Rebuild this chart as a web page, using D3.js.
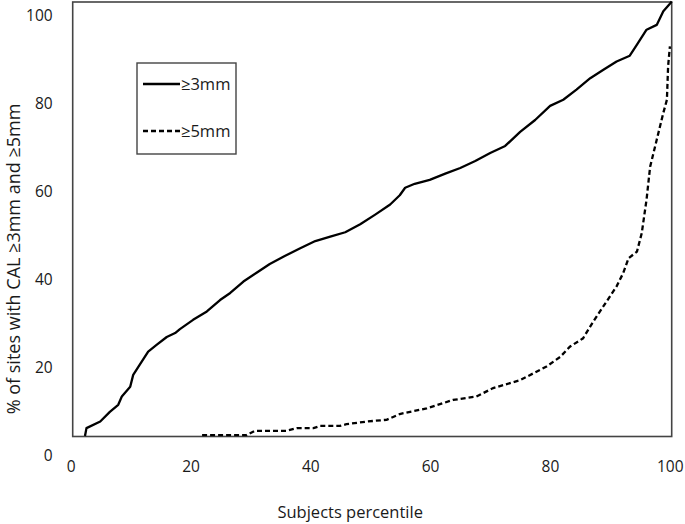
<!DOCTYPE html>
<html>
<head>
<meta charset="utf-8">
<script src="https://cdn.jsdelivr.net/npm/d3@7"></script>
<style>
  html, body { margin: 0; padding: 0; background: #fff; }
  svg text { font-family: "Open Sans", Lato, sans-serif; fill: #1a1a1a; }
</style>
</head>
<body>
<svg id="chart" width="685" height="524"></svg>
<script>
// ---- data ----
const xTicks = [0, 20, 40, 60, 80, 100];
const yTicks = [0, 20, 40, 60, 80, 100];
const seriesNames = ["\u22653mm", "\u22655mm"];

const pct3 = [2.05, 2.3, 4.6, 6.2, 7.6, 8.2, 9.6, 10.1, 11.2, 12.6, 14.0, 15.7, 17.1, 17.9, 20.1, 22.4, 24.6, 26.3, 28.5, 30.7,
  32.9, 35.4, 37.9, 40.5, 43.0, 45.5, 48.0, 50.5, 53.0, 54.6, 55.5, 57.1, 59.6, 62.2, 64.7, 67.2, 69.7, 72.2, 74.7, 77.2, 79.7,
  81.9, 84.1, 86.4, 88.6, 90.8, 93.0, 94.2, 95.8, 97.5, 98.6, 99.7, 100];
const val3 = [4.3, 6.1, 7.6, 9.8, 11.4, 13.3, 15.5, 18.2, 20.5, 23.5, 25.0, 26.8, 27.7, 28.6, 30.7, 32.6, 35.2, 36.8, 39.4, 41.4,
  43.4, 45.2, 46.9, 48.6, 49.6, 50.6, 52.4, 54.6, 56.9, 59.0, 60.7, 61.6, 62.5, 63.9, 65.2, 66.8, 68.6, 70.2, 73.4, 76.1, 79.3,
  80.7, 83.0, 85.6, 87.5, 89.4, 90.7, 93.2, 96.6, 97.7, 100.8, 102.5, 103];

const pct5 = [21.6, 29.0, 30.4, 35.7, 37.4, 40.2, 41.3, 44.6, 45.7, 49.1, 52.4, 54.6, 59.1, 63.5, 67.4, 70.2, 74.7, 79.1, 81.4,
  83.0, 85.2, 86.9, 89.1, 90.8, 91.9, 92.8, 94.2, 95.0, 95.8, 96.4, 97.5, 98.6, 99.2, 99.4, 99.7];
const val5 = [4.5, 4.5, 5.5, 5.5, 6.1, 6.1, 6.6, 6.6, 7.0, 7.6, 8.0, 9.3, 10.6, 12.5, 13.3, 15.2, 17.0, 20.1, 22.3,
  24.6, 26.5, 30.3, 34.8, 38.3, 41.3, 44.7, 46.2, 50.4, 58.0, 65.5, 71.6, 77.7, 80.7, 88.3, 92.8];

// ---- layout ----
const svg = d3.select("#chart");
const box = { left: 72.7, right: 671.7, top: 2, bottom: 436.5 };
const FONT = "'Open Sans', Lato, sans-serif";

const x = d3.scaleLinear().domain([0, 100]).range([box.left, box.right]);
const y = d3.scaleLinear().domain([4.2, 102.9]).range([box.bottom, box.top]);

// plot frame
svg.append("rect")
  .attr("x", box.left).attr("y", box.top)
  .attr("width", box.right - box.left).attr("height", box.bottom - box.top)
  .attr("fill", "none").attr("stroke", "#444").attr("stroke-width", 1.6);

// axes (labels only)
const yAxis = svg.append("g")
  .attr("transform", `translate(${box.left - 20},0)`)
  .call(d3.axisLeft(y).tickValues(yTicks).tickSize(0).tickPadding(0));
yAxis.select(".domain").remove();
yAxis.selectAll("text").style("font-size", "15.5px").attr("dy", "0.35em").style("font-family", FONT).attr("fill", "#1a1a1a");

const xAxis = svg.append("g")
  .attr("transform", `translate(-2,${461})`)
  .call(d3.axisBottom(x).tickValues(xTicks).tickSize(0).tickPadding(0));
xAxis.select(".domain").remove();
xAxis.selectAll("text").style("font-size", "15.5px").style("font-family", FONT).attr("fill", "#1a1a1a");

// axis titles
svg.append("text")
  .attr("x", (box.left + box.right) / 2 - 22).attr("y", 518)
  .attr("text-anchor", "middle").style("font-size", "16.5px")
  .text("Subjects percentile");

svg.append("text")
  .attr("transform", `translate(20,${259}) rotate(-90)`)
  .attr("text-anchor", "middle").style("font-size", "18px")
  .text("% of sites with CAL \u22653mm and \u22655mm");

// lines
const line = d3.line().x(d => x(d[0])).y(d => y(d[1]));
const s3 = pct3.map((p, i) => [p, val3[i]]);
const s5 = pct5.map((p, i) => [p, val5[i]]);

svg.append("path").datum(s3).attr("d", line)
  .attr("fill", "none").attr("stroke", "#000").attr("stroke-width", 2.3).attr("stroke-linejoin", "round");
svg.append("path").datum(s5).attr("d", line)
  .attr("fill", "none").attr("stroke", "#000").attr("stroke-width", 2.3).attr("stroke-dasharray", "5,3");

// legend
const lg = svg.append("g");
lg.append("rect").attr("x", 137).attr("y", 63).attr("width", 99).attr("height", 91)
  .attr("fill", "#fff").attr("stroke", "#444").attr("stroke-width", 1.4);
const items = [{ name: seriesNames[0], dash: null, yy: 84 }, { name: seriesNames[1], dash: "5,3", yy: 131 }];
items.forEach(it => {
  lg.append("line").attr("x1", 143).attr("x2", 180).attr("y1", it.yy).attr("y2", it.yy)
    .attr("stroke", "#000").attr("stroke-width", 2.3).attr("stroke-dasharray", it.dash);
  lg.append("text").attr("x", 181).attr("y", it.yy).attr("dy", "0.35em")
    .style("font-size", "16.5px").text(it.name);
});
</script>
</body>
</html>
